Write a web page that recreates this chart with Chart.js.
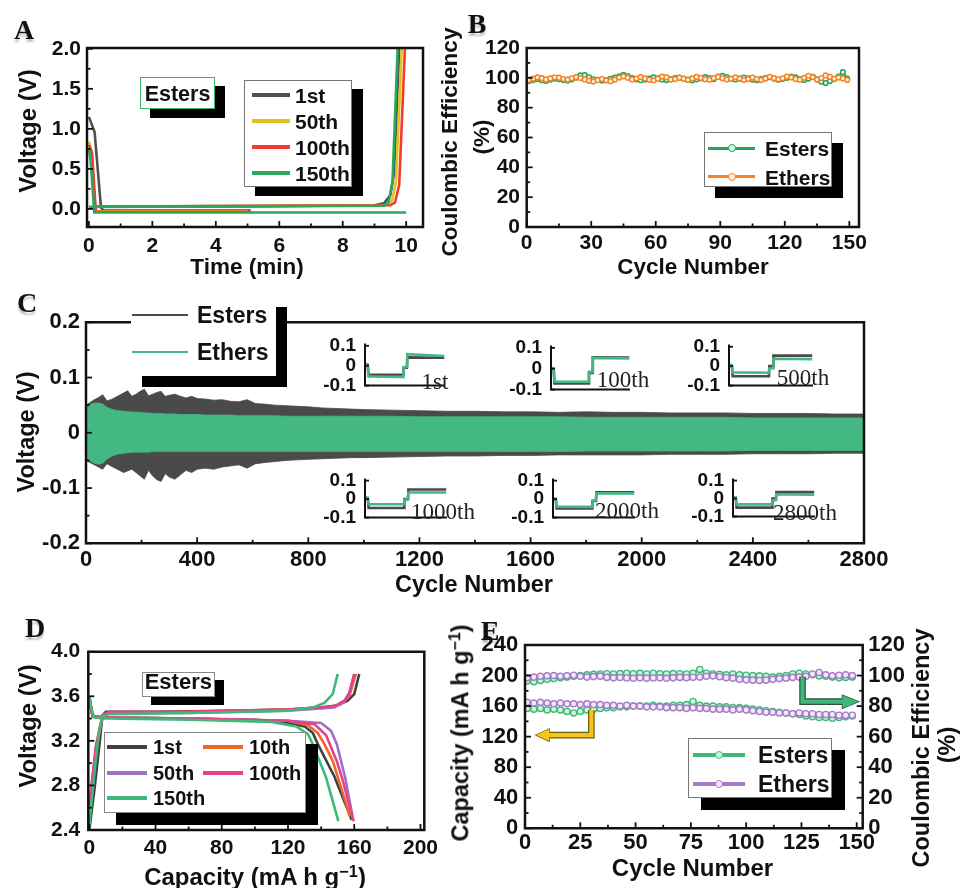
<!DOCTYPE html>
<html>
<head>
<meta charset="utf-8">
<title>Symmetric cell cycling, esters vs ethers</title>
<script src="https://cdn.jsdelivr.net/npm/chart.js@4.4.1/dist/chart.umd.min.js"></script>
<style>
  body { margin: 0; background: #fff; }
  #stage { position: relative; width: 967px; height: 888px; overflow: hidden;
           font-family: "Liberation Sans", Arial, sans-serif; font-weight: bold; color: #111; }
  #stage canvas { position: absolute; }
  .t { position: absolute; white-space: nowrap; line-height: 1; transform: translate(-50%, -50%); }
  .r { position: absolute; box-sizing: border-box; }
  sup { font-size: 0.68em; line-height: 0; vertical-align: 0.5em; }
</style>
</head>
<body>
<div id="stage">
  <canvas id="chartA" width="440" height="290" style="left:0;top:0"></canvas>
  <canvas id="chartB" width="527" height="290" style="left:440px;top:0"></canvas>
  <canvas id="chartC" width="967" height="310" style="left:0;top:290px"></canvas>
  <canvas id="chartD" width="460" height="278" style="left:0;top:610px"></canvas>
  <canvas id="chartE" width="527" height="278" style="left:440px;top:610px"></canvas>
</div>
<script>
// ---- A: voltage profiles (esters) ----
const aXTicks = [0, 2, 4, 6, 8, 10];
const aYTicks = [0, 0.5, 1, 1.5, 2];
const aTime1 = [0, 0.18, 0.38, 0.45, 5.1, 5.1, 0.45, 4.0, 9.0, 9.3, 9.5, 9.62, 9.78];
const aVolt1 = [1.15, 0.96, 0.02, -0.02, -0.02, null, 0.03, 0.035, 0.045, 0.07, 0.17, 0.45, 2.0];
const aTime50 = [0, 0.08, 0.2, 5.0, 5.0, 0.25, 5.0, 9.35, 9.55, 9.68, 9.86];
const aVolt50 = [0.84, 0.72, -0.03, -0.03, null, 0.03, 0.035, 0.045, 0.09, 0.35, 2.0];
const aTime100 = [0, 0.1, 0.22, 5.1, 5.1, 0.25, 5.0, 9.5, 9.65, 9.78, 9.96];
const aVolt100 = [0.8, 0.7, -0.035, -0.035, null, 0.03, 0.035, 0.045, 0.08, 0.3, 2.0];
const aTime150 = [0, 0.05, 0.17, 10.0, 10.0, 0, 5.0, 9.3, 9.45, 9.57, 9.73];
const aVolt150 = [0.76, 0.62, -0.045, -0.045, null, 0.025, 0.03, 0.04, 0.09, 0.35, 2.0];

// ---- B: coulombic efficiency, cycles 1..149 every 2nd ----
const bXTicks = [0, 30, 60, 90, 120, 150];
const bYTicks = [0, 20, 40, 60, 80, 100, 120];
const bEsters = [97.8, 98.5, 99.2, 98.4, 97.9, 98.8, 99.5, 99.2, 98.6, 98.2,
  99.0, 100.2, 101.6, 101.8, 100.4, 99.0, 98.6, 98.2, 98.5, 99.3,
  100.1, 101.0, 102.0, 101.2, 99.8, 99.0, 98.4, 98.8, 99.5, 100.3,
  99.6, 98.9, 98.5, 99.0, 99.8, 100.2, 99.5, 98.8, 98.3, 99.0,
  99.7, 100.5, 99.9, 99.2, 100.8, 101.3, 100.5, 99.4, 98.9, 99.5,
  100.2, 99.6, 98.8, 98.4, 99.1, 99.8, 100.4, 99.5, 98.7, 99.3,
  100.0, 100.9, 100.3, 99.2, 98.6, 99.5, 100.6, 99.0, 97.4, 96.5,
  97.8, 99.2, 100.8, 103.8, 99.5];
const bEthers = [98.6, 99.5, 100.3, 99.8, 98.9, 99.6, 100.4, 100.1, 99.2, 98.8,
  99.7, 100.5, 99.9, 98.9, 98.0, 97.6, 98.4, 99.2, 98.3, 97.7,
  98.8, 100.2, 101.0, 100.1, 98.9, 99.5, 100.5, 99.6, 98.7, 98.3,
  99.4, 100.8, 100.3, 98.9, 99.2, 100.1, 99.4, 98.6, 99.6, 100.6,
  99.9, 99.1, 98.7, 99.8, 100.6, 99.7, 98.9, 99.4, 100.4, 99.5,
  98.6, 99.3, 100.2, 99.2, 98.5, 99.6, 100.7, 99.8, 99.0, 99.7,
  100.9, 100.3, 99.2, 98.7, 100.0, 101.4, 100.5, 98.8, 99.9, 101.6,
  100.7, 99.4, 100.2, 99.6, 98.6];
const bCycles = bEsters.map((_, i) => 1 + 2 * i);

// ---- C: long cycling voltage envelope ----
const cXTicks = [0, 400, 800, 1200, 1600, 2000, 2400, 2800];
const cYTicks = [-0.2, -0.1, 0, 0.1, 0.2];
const cCycles = [0, 15, 30, 45, 60, 75, 90, 105, 120, 135,
  150, 165, 180, 195, 210, 225, 240, 255, 270, 285,
  300, 320, 340, 360, 380, 400, 430, 460, 490, 520,
  550, 580, 610, 640, 680, 720, 760, 800, 850, 900,
  950, 1000, 1100, 1200, 1300, 1400, 1500, 1600, 1700, 1800,
  1900, 2000, 2100, 2200, 2300, 2400, 2500, 2600, 2700, 2800];
const cEstersTop = [0.050, 0.055, 0.060, 0.064, 0.069, 0.058, 0.060, 0.064, 0.068, 0.072,
  0.076, 0.066, 0.070, 0.075, 0.079, 0.067, 0.070, 0.073, 0.075, 0.066,
  0.068, 0.070, 0.066, 0.063, 0.066, 0.062, 0.061, 0.059, 0.060, 0.057,
  0.056, 0.060, 0.053, 0.052, 0.050, 0.049, 0.048, 0.047, 0.045, 0.044,
  0.043, 0.042, 0.041, 0.040, 0.039, 0.039, 0.038, 0.038, 0.037, 0.038,
  0.037, 0.037, 0.036, 0.036, 0.036, 0.035, 0.035, 0.035, 0.034, 0.034];
const cEstersBottom = [-0.050, -0.054, -0.058, -0.062, -0.066, -0.056, -0.060, -0.064, -0.068, -0.072,
  -0.069, -0.066, -0.072, -0.078, -0.084, -0.068, -0.078, -0.085, -0.088, -0.074,
  -0.080, -0.084, -0.076, -0.068, -0.072, -0.066, -0.064, -0.066, -0.062, -0.060,
  -0.058, -0.064, -0.056, -0.054, -0.052, -0.050, -0.049, -0.048, -0.047, -0.046,
  -0.045, -0.045, -0.044, -0.043, -0.042, -0.042, -0.041, -0.041, -0.040, -0.040,
  -0.040, -0.040, -0.039, -0.039, -0.039, -0.038, -0.038, -0.038, -0.037, -0.037];
const cEthersTop = [0.046, 0.051, 0.054, 0.054, 0.052, 0.046, 0.043, 0.041, 0.040, 0.039,
  0.038, 0.038, 0.037, 0.037, 0.036, 0.036, 0.035, 0.035, 0.035, 0.034,
  0.034, 0.034, 0.033, 0.033, 0.033, 0.033, 0.032, 0.032, 0.032, 0.032,
  0.031, 0.031, 0.031, 0.031, 0.031, 0.030, 0.030, 0.030, 0.030, 0.030,
  0.030, 0.030, 0.030, 0.029, 0.029, 0.029, 0.029, 0.029, 0.029, 0.028,
  0.028, 0.028, 0.028, 0.028, 0.028, 0.027, 0.027, 0.027, 0.027, 0.027];
const cEthersBottom = [-0.046, -0.051, -0.055, -0.057, -0.055, -0.048, -0.043, -0.040, -0.038, -0.037,
  -0.036, -0.035, -0.035, -0.035, -0.035, -0.035, -0.034, -0.034, -0.034, -0.034,
  -0.034, -0.034, -0.034, -0.034, -0.034, -0.034, -0.034, -0.034, -0.034, -0.034,
  -0.034, -0.034, -0.034, -0.034, -0.034, -0.034, -0.034, -0.034, -0.034, -0.034,
  -0.034, -0.034, -0.034, -0.034, -0.034, -0.034, -0.034, -0.034, -0.034, -0.033,
  -0.033, -0.033, -0.033, -0.033, -0.033, -0.032, -0.032, -0.032, -0.032, -0.032];

// insets: single cycle profiles
const insetLabels = ['1st', '100th', '500th', '1000th', '2000th', '2800th'];
const insetTicks = [-0.1, 0, 0.1];
const insetTime = [0, 0.35, 0.45, 4.9, 4.95, 5.4, 5.45, 10.2];
const insetEsters = [
  [0.004, 0.004, -0.044, -0.046, -0.010, -0.010, 0.042, 0.040],
  [0.000, 0.000, -0.070, -0.070, -0.020, -0.020, 0.055, 0.054],
  [0.006, 0.004, -0.052, -0.052, 0.000, 0.000, 0.054, 0.054],
  [0.006, 0.004, -0.048, -0.048, 0.000, 0.000, 0.052, 0.052],
  [0.000, 0.000, -0.050, -0.050, -0.010, -0.010, 0.037, 0.037],
  [0.004, 0.002, -0.050, -0.050, 0.000, 0.000, 0.036, 0.036]
];
const insetEthers = [
  [0.008, 0.006, -0.054, -0.056, -0.008, -0.006, 0.058, 0.049],
  [0.004, 0.002, -0.062, -0.062, -0.015, -0.015, 0.052, 0.050],
  [0.008, 0.004, -0.032, -0.034, -0.012, -0.010, 0.038, 0.036],
  [0.010, 0.008, -0.028, -0.028, -0.004, 0.000, 0.036, 0.036],
  [0.004, 0.002, -0.041, -0.042, -0.008, -0.006, 0.032, 0.031],
  [0.008, 0.006, -0.032, -0.032, -0.010, -0.008, 0.024, 0.022]
];

// ---- D: charge / discharge curves (esters) ----
const dXTicks = [0, 40, 80, 120, 160, 200];
const dYTicks = [2.4, 2.8, 3.2, 3.6, 4.0];
const dCap1 = [0, 3, 6, 8, 10, 40, 80, 120, 140, 150, 156, 160, 163, 163, 0, 2, 10, 60, 100, 120, 130, 135, 138, 148, 158.5];
const dVolt1 = [2.4, 2.75, 3.15, 3.43, 3.46, 3.46, 3.47, 3.48, 3.5, 3.52, 3.56, 3.62, 3.8, null, 3.55, 3.42, 3.41, 3.40, 3.39, 3.36, 3.33, 3.27, 3.17, 2.88, 2.49];
const dCap10 = [0, 4, 8, 12, 60, 120, 145, 152, 157, 161, 161, 0, 2, 10, 60, 120, 132, 138, 142, 147, 157.5];
const dVolt10 = [2.6, 3.1, 3.42, 3.45, 3.46, 3.48, 3.5, 3.53, 3.6, 3.8, null, 3.6, 3.42, 3.41, 3.40, 3.38, 3.34, 3.27, 3.17, 3.02, 2.52];
const dCap50 = [0, 4, 8, 12, 60, 120, 148, 154, 157, 160, 160, 0, 2, 10, 60, 120, 140, 146, 149.5, 154.5, 159.5];
const dVolt50 = [2.6, 3.15, 3.43, 3.45, 3.45, 3.47, 3.5, 3.55, 3.62, 3.8, null, 3.6, 3.42, 3.41, 3.40, 3.38, 3.36, 3.29, 3.17, 2.87, 2.48];
const dCap100 = [0, 4, 8, 12, 60, 120, 148, 154, 157, 160, 160, 0, 2, 10, 60, 120, 136, 143, 149.4, 153, 159.5];
const dVolt100 = [2.62, 3.15, 3.43, 3.46, 3.46, 3.48, 3.51, 3.56, 3.63, 3.8, null, 3.6, 3.42, 3.41, 3.40, 3.38, 3.35, 3.25, 3.02, 2.85, 2.48];
const dCap150 = [0, 3, 6, 8, 12, 60, 120, 135, 142, 147, 150, 150, 0, 1, 3, 10, 60, 110, 125, 132, 135, 143, 150.4];
const dVolt150 = [2.44, 2.9, 3.3, 3.42, 3.44, 3.45, 3.47, 3.5, 3.54, 3.62, 3.8, null, 3.6, 3.5, 3.41, 3.40, 3.39, 3.37, 3.33, 3.26, 3.17, 2.87, 2.48];

// ---- E: capacity + CE, cycles 1..148 every 3rd ----
const eXTicks = [0, 25, 50, 75, 100, 125, 150];
const eCapTicks = [0, 40, 80, 120, 160, 200, 240];
const eCeTicks = [0, 20, 40, 60, 80, 100, 120];
const eEstersCap = [157, 156, 157, 155, 156, 155, 153, 151, 153, 155,
  156, 157, 158, 158, 159, 159, 160, 160, 160, 161,
  160, 160, 161, 161, 162, 166, 161, 160, 160, 159,
  159, 158, 158, 157, 156, 155, 154, 153, 152, 151,
  150, 149, 147, 146, 145, 145, 144, 145, 146, 147];
const eEthersCap = [165, 164, 165, 164, 163, 164, 163, 163, 162, 163,
  162, 162, 161, 161, 160, 161, 160, 160, 159, 159,
  159, 158, 158, 158, 157, 158, 157, 157, 156, 156,
  156, 155, 156, 155, 154, 153, 152, 152, 151, 151,
  150, 151, 150, 150, 149, 149, 149, 148, 148, 148];
const eEstersCE = [96.5, 96, 96.8, 97.5, 98, 98.5, 99, 99.5, 100, 100.5,
  100.8, 101, 101.2, 101, 101.3, 101.5, 101.2, 101.4, 101, 101.5,
  101.2, 101, 101.3, 101.2, 101, 101.5, 104, 101.5, 101, 100.8,
  100.5, 101, 100.5, 100.2, 100, 99.8, 99.5, 99, 99.5, 100,
  101, 101.5, 101, 100.5, 99.8, 99.5, 99, 98.5, 98.8, 99];
const eEthersCE = [98.5, 99, 99.5, 99.8, 100, 99.5, 99.8, 100.2, 99.5, 99,
  99.3, 99.6, 98.8, 98.5, 98.7, 98.4, 98.2, 98.5, 98.3, 98.4,
  98.5, 98.2, 98.5, 98.8, 98.6, 98.9, 99, 99.5, 99.8, 99.2,
  98.6, 98.3, 97.5, 97.2, 97, 96.8, 97, 97.5, 98, 98.3,
  98.8, 99, 99.5, 101, 102, 100.5, 99.8, 100.2, 100.5, 100];
const eCycles = eEstersCap.map((_, i) => 1 + 3 * i);
// arrows: [cycle, value] on capacity axis / CE axis
const eCapArrow = [[30, 155], [30, 122], [5, 122]];
const eCeArrow = [[125.5, 99.2], [125.5, 82.9], [150.8, 82.9]];

// ---------- helpers ----------
const SANS = '"Liberation Sans", Arial, sans-serif';
Chart.defaults.font.family = SANS;
Chart.defaults.color = '#111';

const fmtInt = v => String(v);
const fmt1 = v => v.toFixed(1);
const fmtC = v => (v === 0 ? '0' : v.toFixed(1));
const xy = (xs, ys) => xs.map((x, i) => ({ x, y: ys[i] }));

// frame box + inward ticks
const framePlugin = {
  id: 'frame',
  afterDatasetsDraw(chart, args, opts) {
    const { ctx, chartArea: a } = chart;
    ctx.save();
    ctx.strokeStyle = '#111';
    ctx.lineWidth = opts.lineWidth || 2.5;
    ctx.beginPath();
    if (opts.box) {
      ctx.rect(a.left, a.top, a.right - a.left, a.bottom - a.top);
    } else {
      ctx.moveTo(a.left, a.top);
      ctx.lineTo(a.left, a.bottom);
      ctx.lineTo(a.right, a.bottom);
    }
    ctx.stroke();
    ctx.lineWidth = 1.8;
    Object.values(chart.scales).forEach(s => {
      if (s.isHorizontal() && opts.xTicks === false) return;
      const vals = s.ticks.map(t => t.value);
      const marks = vals.map(v => [v, opts.major]);
      if (opts.minor) {
        for (let i = 0; i < vals.length - 1; i++) marks.push([(vals[i] + vals[i + 1]) / 2, opts.minor]);
      }
      marks.forEach(([v, len]) => {
        const p = s.getPixelForValue(v);
        ctx.beginPath();
        if (s.isHorizontal()) { ctx.moveTo(p, a.bottom); ctx.lineTo(p, a.bottom - len); }
        else if (s.position === 'right') { ctx.moveTo(a.right, p); ctx.lineTo(a.right - len, p); }
        else { ctx.moveTo(a.left, p); ctx.lineTo(a.left + len, p); }
        ctx.stroke();
      });
    });
    ctx.restore();
  }
};

// bent arrows for panel E
const arrowPlugin = {
  id: 'arrows',
  afterDatasetsDraw(chart, args, opts) {
    const { ctx } = chart;
    (opts.list || []).forEach(ar => {
      const xs = chart.scales.x, ys = chart.scales[ar.axis];
      const pts = ar.path.map(([x, y]) => [xs.getPixelForValue(x), ys.getPixelForValue(y)]);
      const n = pts.length;
      const [tx, ty] = pts[n - 1];
      const [px, py] = pts[n - 2];
      const dx = Math.sign(tx - px), dy = Math.sign(ty - py);
      const hl = ar.head, hw = ar.headW;
      const bx = tx - dx * hl, by = ty - dy * hl;
      const shaft = () => {
        ctx.beginPath();
        ctx.moveTo(pts[0][0], pts[0][1]);
        for (let i = 1; i < n - 1; i++) ctx.lineTo(pts[i][0], pts[i][1]);
        ctx.lineTo(bx + dx, by + dy);
      };
      const head = () => {
        ctx.beginPath();
        ctx.moveTo(tx, ty);
        ctx.lineTo(bx - dy * hw, by + dx * hw);
        ctx.lineTo(bx + dy * hw, by - dx * hw);
        ctx.closePath();
      };
      ctx.save();
      ctx.lineJoin = 'miter';
      ctx.lineCap = 'butt';
      shaft(); ctx.strokeStyle = ar.edge; ctx.lineWidth = ar.width + 2.4; ctx.stroke();
      head(); ctx.fillStyle = ar.color; ctx.fill(); ctx.lineWidth = 1.4; ctx.stroke();
      shaft(); ctx.strokeStyle = ar.color; ctx.lineWidth = ar.width; ctx.stroke();
      head(); ctx.fill();
      ctx.restore();
    });
  }
};

function axis(pos, min, max, vals, fmt, size, pad, fit, display = true) {
  return {
    type: 'linear', position: pos, min, max, display,
    grid: { display: false, drawTicks: false },
    border: { display: false },
    afterBuildTicks: s => { s.ticks = vals.map(v => ({ value: v })); },
    afterFit: s => { if (pos === 'bottom') s.height = fit; else s.width = fit; },
    ticks: { font: { size, weight: 'bold' }, padding: pad, color: '#111',
             autoSkip: false, maxRotation: 0, callback: fmt }
  };
}

function opts(pad, scales, frame, extra) {
  return {
    responsive: false, animation: false, events: [],
    layout: { padding: Object.assign({ top: 0, right: 0, bottom: 0, left: 0 }, pad) },
    scales,
    plugins: Object.assign({ legend: { display: false }, tooltip: { enabled: false }, frame }, extra || {})
  };
}

function line(data, color, width) {
  return { data, borderColor: color, backgroundColor: color, borderWidth: width,
           pointRadius: 0, tension: 0, fill: false, spanGaps: false };
}

function marked(data, color, light, r, axisId) {
  return { data, yAxisID: axisId || 'y', borderColor: color, backgroundColor: color, borderWidth: 2.2,
           pointRadius: r, pointBorderWidth: 1.4, pointBorderColor: color,
           pointBackgroundColor: light, tension: 0, fill: false };
}

// ---------- A ----------
const colA = ['#505050', '#e4c21b', '#f03c32', '#2aa85e'];
new Chart(document.getElementById('chartA'), {
  type: 'line',
  data: { datasets: [
    line(xy(aTime150, aVolt150), colA[3], 2.6),
    line(xy(aTime100, aVolt100), colA[2], 2.6),
    line(xy(aTime50, aVolt50), colA[1], 2.6),
    line(xy(aTime1, aVolt1), colA[0], 2.6)
  ] },
  options: opts({ top: 48, right: 17 }, {
    x: axis('bottom', -0.06, 10.53, aXTicks, fmtInt, 21, 7, 63),
    y: axis('left', -0.226, 2.01, aYTicks, fmt1, 21, 6, 87)
  }, { box: true, major: 6, minor: 3.5 }),
  plugins: [framePlugin]
});

// ---------- B ----------
const greenB = '#22a35a', orangeB = '#f58220';
new Chart(document.getElementById('chartB'), {
  type: 'line',
  data: { datasets: [
    marked(xy(bCycles, bEthers), orangeB, '#fff1e2', 2.4),
    marked(xy(bCycles, bEsters), greenB, '#e3f6ea', 2.4)
  ] },
  options: opts({ top: 48, right: 108 }, {
    x: axis('bottom', 0, 154.5, bXTicks, fmtInt, 21, 3.7, 63),
    y: axis('left', 0, 120, bYTicks, fmtInt, 21, 6.7, 86.7)
  }, { box: true, major: 6, minor: 3.5 }),
  plugins: [framePlugin]
});

// ---------- C ----------
const grayC = '#4a4a4a', greenC = '#43b883';
function band(data, color, fill) {
  return { data, borderColor: color, backgroundColor: color, borderWidth: 0.8,
           pointRadius: 0, tension: 0, fill };
}
new Chart(document.getElementById('chartC'), {
  type: 'line',
  data: { datasets: [
    band(xy(cCycles, cEthersTop), greenC, '+1'),
    band(xy(cCycles, cEthersBottom), greenC, false),
    band(xy(cCycles, cEstersTop), grayC, '+1'),
    band(xy(cCycles, cEstersBottom), grayC, false)
  ] },
  options: opts({ top: 32.3, right: 103 }, {
    x: axis('bottom', 0, 2800, cXTicks, fmtInt, 22, 3.5, 56.7),
    y: axis('left', -0.2, 0.2, cYTicks, fmtC, 22, 6, 86)
  }, { box: true, major: 6, minor: 3.5 }),
  plugins: [framePlugin]
});

// inset boxes: axis x, top, right end, bottom (page pixels)
const insetBoxes = [
  [365, 335, 445, 391.5], [551, 337, 630, 395.5], [729, 336, 813, 391.7],
  [365, 470, 447, 524.3], [553, 470, 635, 524.3], [733, 470, 815, 523.3]
];
const insetLabelPos = [[435, 381], [623, 379], [803, 377], [443, 511], [627, 510], [805, 512]];
const stage = document.getElementById('stage');
insetBoxes.forEach(([ax, at, ar, ab], k) => {
  const cv = document.createElement('canvas');
  const padL = 46, padT = 12, padR = 8, padB = 14;
  cv.width = Math.round(padL + (ar - ax) + padR);
  cv.height = Math.round(padT + (ab - at) + padB);
  cv.style.left = (ax - padL) + 'px';
  cv.style.top = (at - padT) + 'px';
  stage.appendChild(cv);
  new Chart(cv, {
    type: 'line',
    data: { datasets: [
      line(xy(insetTime, insetEthers[k]), greenC, 2.6),
      line(xy(insetTime, insetEsters[k]), grayC, 2.6)
    ] },
    options: opts({ top: padT, right: cv.width - padL - (ar - ax), bottom: cv.height - padT - (ab - at) }, {
      x: axis('bottom', 0, 10.3, [0, 10], fmtInt, 10, 0, 0, false),
      y: axis('left', -0.1, 0.112, insetTicks, fmtC, 19, 9, padL)
    }, { box: false, lineWidth: 2, major: 4, minor: 0, xTicks: false }),
    plugins: [framePlugin]
  });
});

// ---------- D ----------
const colD = ['#404040', '#f26522', '#9d72c6', '#e8418c', '#3dba7a'];
new Chart(document.getElementById('chartD'), {
  type: 'line',
  data: { datasets: [
    line(xy(dCap150, dVolt150), colD[4], 2.6),
    line(xy(dCap100, dVolt100), colD[3], 2.6),
    line(xy(dCap50, dVolt50), colD[2], 2.6),
    line(xy(dCap10, dVolt10), colD[1], 2.6),
    line(xy(dCap1, dVolt1), colD[0], 2.6)
  ] },
  options: opts({ top: 41.7, right: 35.7 }, {
    x: axis('bottom', -0.6, 202.3, dXTicks, fmtInt, 21, 5.7, 58),
    y: axis('left', 2.4, 4.0, dYTicks, fmt1, 21, 8, 88.3)
  }, { box: true, major: 6, minor: 3.5 }),
  plugins: [framePlugin]
});

// ---------- E ----------
const greenE = '#3dba78', violetE = '#a67bc8';
new Chart(document.getElementById('chartE'), {
  type: 'line',
  data: { datasets: [
    marked(xy(eCycles, eEthersCE), violetE, '#f3e9fa', 3.1, 'y1'),
    marked(xy(eCycles, eEthersCap), violetE, '#f3e9fa', 3.1, 'y'),
    marked(xy(eCycles, eEstersCE), greenE, '#d5f3e2', 3.1, 'y1'),
    marked(xy(eCycles, eEstersCap), greenE, '#d5f3e2', 3.1, 'y')
  ] },
  options: opts({ top: 35 }, {
    x: axis('bottom', 0, 152.7, eXTicks, fmtInt, 22, 1.8, 59.7),
    y: axis('left', 0, 240, eCapTicks, fmtInt, 22, 6.7, 85),
    y1: axis('right', 0, 120, eCeTicks, fmtInt, 22, 5.6, 104.3)
  }, { box: true, major: 6, minor: 3.5 }, {
    arrows: { list: [
      { path: eCapArrow, axis: 'y', color: '#f5c518', edge: '#6b5a1a', width: 4.2, head: 13, headW: 6 },
      { path: eCeArrow, axis: 'y1', color: '#3cb878', edge: '#2d4f3c', width: 4.2, head: 16, headW: 6.5 }
    ] }
  }),
  plugins: [framePlugin, arrowPlugin]
});

// ---------- text, legends, panel letters ----------
function txt(html, x, y, size, o = {}) {
  const d = document.createElement('div');
  d.className = 't';
  d.innerHTML = html;
  d.style.left = x + 'px';
  d.style.top = y + 'px';
  d.style.fontSize = size + 'px';
  if (o.rot) d.style.transform = 'translate(-50%,-50%) rotate(-90deg)';
  if (o.start) d.style.transform = 'translate(0,-50%)';
  if (o.font) d.style.fontFamily = o.font;
  if (o.weight) d.style.fontWeight = o.weight;
  if (o.css) d.style.cssText += o.css;
  stage.appendChild(d);
}
function rect(x, y, w, h, css) {
  const d = document.createElement('div');
  d.className = 'r';
  d.style.cssText = `left:${x}px;top:${y}px;width:${w}px;height:${h}px;` + css;
  stage.appendChild(d);
}
function swatch(x1, x2, y, color, th, marker, light) {
  rect(x1, y - th / 2, x2 - x1, th, `background:${color}`);
  if (marker) rect((x1 + x2) / 2 - 4, y - 4, 8, 8, `border-radius:50%;border:1.5px solid ${color};background:${light}`);
}

const SERIF = '"Liberation Serif", "Times New Roman", serif';
const letterCss = 'text-shadow:0 3px 2px rgba(0,0,0,0.25)';
txt('A', 24, 30, 28, { font: SERIF, css: letterCss });
txt('B', 477, 24, 28, { font: SERIF, css: letterCss });
txt('C', 27, 303, 28, { font: SERIF, css: letterCss });
txt('D', 35, 628, 28, { font: SERIF, css: letterCss });
txt('E', 490, 631, 28, { font: SERIF, css: letterCss });

// axis titles
txt('Voltage (V)', 27.5, 131, 24, { rot: true });
txt('Time (min)', 247, 267, 22.5);
txt('Coulombic Efficiency', 450, 142, 22.5, { rot: true });
txt('(%)', 481.7, 137, 22.5, { rot: true });
txt('Cycle Number', 693, 267, 22.5);
txt('Voltage (V)', 27, 432, 23.5, { rot: true });
txt('Cycle Number', 474, 585, 23.5);
txt('Voltage (V)', 27.5, 726, 24, { rot: true });
txt('Capacity (mA h g<sup>\u22121</sup>)', 255, 877, 24);
txt('Capacity (mA h g<sup>\u22121</sup>)', 461, 733, 23.5, { rot: true });
txt('Coulombic Efficiency', 921.7, 748, 23.5, { rot: true });
txt('(%)', 948, 745, 23.5, { rot: true });
txt('Cycle Number', 692.5, 867.5, 24);

// A: "Esters" tag and legend
rect(140, 77, 75, 32, 'background:#fff;border:1px solid #3cb371;box-shadow:10px 9px 0 #000');
txt('Esters', 177.5, 94.5, 21.5);
rect(244, 80, 108, 107, 'background:#fff;border:1px solid #777;box-shadow:11px 9px 0 #000');
const aNames = ['1st', '50th', '100th', '150th'];
const aRows = [95, 120.7, 147.3, 173.3];
aNames.forEach((n, i) => { swatch(251.7, 290, aRows[i], colA[i], 3.8); txt(n, 295, aRows[i], 21, { start: true }); });

// B legend
rect(704, 132, 128, 55, 'background:#fff;border:1px solid #777;box-shadow:11px 11px 0 #000');
swatch(708, 755, 148.3, greenB, 3.5, true, '#e3f6ea');
txt('Esters', 765, 148.3, 21, { start: true });
swatch(708, 755, 176.7, orangeB, 3.5, true, '#fff1e2');
txt('Ethers', 765, 176.7, 21, { start: true });

// C legend
rect(131, 296, 145, 80, 'background:#fff;box-shadow:11px 11px 0 #000');
swatch(132, 188, 315, grayC, 2.2);
txt('Esters', 197, 315, 23, { start: true });
swatch(132, 188, 352, greenC, 2.6);
txt('Ethers', 197, 352, 23, { start: true });
insetLabels.forEach((n, k) => txt(n, insetLabelPos[k][0], insetLabelPos[k][1], 23,
  { font: SERIF, weight: 'normal', css: 'color:#222' }));

// D: "Esters" tag and legend
rect(141.7, 671.7, 73.3, 25.6, 'background:#fff;border:1px solid #888;box-shadow:9px 8px 0 #000');
txt('Esters', 178.3, 682, 22);
rect(104, 732, 202, 81, 'background:#fff;border:1px solid #888;box-shadow:12px 12px 0 #000');
const dNames = ['1st', '10th', '50th', '100th', '150th'];
const dSlots = [[107, 747], [203, 747], [107, 773], [203, 773], [107, 798]];
dNames.forEach((n, i) => {
  const [x, y] = dSlots[i];
  swatch(x, x + 40, y, colD[i], 3.8);
  txt(n, x + 46, y, 20, { start: true });
});

// E legend
rect(688, 738, 144, 60, 'background:#fff;border:1px solid #777;box-shadow:13px 12px 0 #000');
swatch(693, 745, 755, greenE, 3.5, true, '#d5f3e2');
txt('Esters', 758, 755, 23, { start: true });
swatch(693, 745, 784, violetE, 3.5, true, '#f3e9fa');
txt('Ethers', 758, 784, 23, { start: true });
</script>
</body>
</html>
